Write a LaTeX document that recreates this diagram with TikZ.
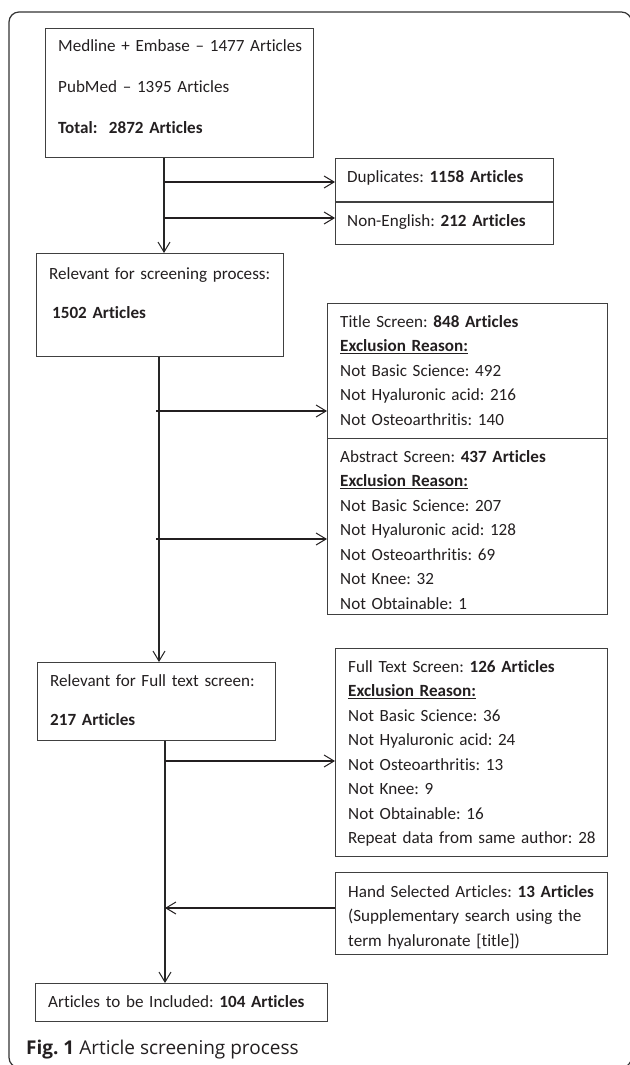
\documentclass[tikz,border=0pt]{standalone}
\usepackage{fontspec}
\setmainfont{Carlito}[Ligatures=NoCommon]
\newfontfamily\capfont{Open Sans}
\usetikzlibrary{arrows.meta}
\definecolor{ink}{HTML}{231F20}
\frenchspacing

\begin{document}
\begin{tikzpicture}[x=1pt,y=-1pt,
  font=\fontsize{17.1}{24.5}\selectfont,text=ink,
  box/.style={draw=black!75,line width=1.3pt,anchor=north west,inner sep=0pt},
  txt/.style={anchor=base west,inner sep=0pt,align=left,text width=265pt},
  arr/.style={-{Straight Barb[length=10pt,width=12pt,line width=1pt]}},
  flow/.style={arr,line width=1.2pt,black!85},
  feed/.style={arr,line width=2.2pt,ink}]
\useasboundingbox (0,0) rectangle (629,1065);
\draw[line width=1.2pt,black!80,rounded corners=10pt] (9,12) rectangle (631.5,1067.5);
% boxes
\node[box,minimum width=268pt,minimum height=129pt] (src) at (45,28) {};
\node[box,minimum width=218pt,minimum height=43pt] (dup) at (335,158) {};
\node[box,minimum width=218pt,minimum height=42pt] (nonen) at (335,202) {};
\node[box,minimum width=247pt,minimum height=103pt] (scr) at (36,253) {};
\node[box,minimum width=280pt,minimum height=135pt] (title) at (327,303) {};
\node[box,minimum width=280pt,minimum height=176pt] (abs) at (327,438) {};
\node[box,minimum width=238pt,minimum height=78pt] (ft) at (37,662) {};
\node[box,minimum width=272pt,minimum height=208pt] (full) at (335,648) {};
\node[box,minimum width=272pt,minimum height=82pt] (hand) at (335,872) {};
\node[box,minimum width=292pt,minimum height=38pt] (fin) at (35,983) {};
% texts
\node[txt] (src-t) at (58,52) {Medline + Embase -- 1477 Articles\\[16.5pt]
  PubMed -- 1395 Articles\\[16.5pt]\textbf{Total:\ \ 2872 Articles}};
\node[txt] (dup-t) at (347,182) {Duplicates: \textbf{1158 Articles}};
\node[txt] (nonen-t) at (347,226) {Non-English: \textbf{212 Articles}};
\node[txt] (scr-t) at (49,279) {Relevant for screening process:\\[14.5pt]
  \hspace*{3pt}\textbf{1502 Articles}};
\node[txt] (title-t) at (340,327) {Title Screen: \textbf{848 Articles}\\
  \underline{\textbf{Exclusion Reason:}}\\Not Basic Science: 492\\
  Not Hyaluronic acid: 216\\Not Osteoarthritis: 140};
\node[txt] (abs-t) at (340,462) {Abstract Screen: \textbf{437 Articles}\\
  \underline{\textbf{Exclusion Reason:}}\\Not Basic Science: 207\\
  Not Hyaluronic acid: 128\\Not Osteoarthritis: 69\\Not Knee: 32\\
  Not Obtainable: 1};
\node[txt] (ft-t) at (50,686) {Relevant for Full text screen:\\[14.5pt]
  \textbf{217 Articles}};
\node[txt] (full-t) at (348,672) {Full Text Screen: \textbf{126 Articles}\\
  \underline{\textbf{Exclusion Reason:}}\\Not Basic Science: 36\\
  Not Hyaluronic acid: 24\\Not Osteoarthritis: 13\\Not Knee: 9\\
  Not Obtainable: 16\\Repeat data from same author: 28};
\node[txt] (hand-t) at (348,897) {Hand Selected Articles: \textbf{13 Articles}\\
  (Supplementary search using the\\term hyaluronate [title])};
\node[txt] (fin-t) at (48,1007) {Articles to be Included: \textbf{104 Articles}};
\node[anchor=base west,inner sep=0pt,font=\capfont\fontsize{19}{24}\selectfont]
  (cap) at (26,1054) {\textbf{Fig. 1} Article screening process};
% connectors
\path (164,182) coordinate (d1) (164,218) coordinate (d2)
  (156,411) coordinate (t1) (156,539) coordinate (t2)
  (165,761) coordinate (f1) (165,908) coordinate (h1);
\draw[flow] (164,0 |- src.south) -- (164,0 |- scr.north);
\draw[flow] (159,0 |- scr.south) -- (159,0 |- ft.north);
\draw[flow] (165,0 |- ft.south) -- (165,0 |- fin.north);
\foreach \p/\b in {d1/dup,d2/nonen,t1/title,t2/abs,f1/full}
  \draw[feed] (\p) -- (\p -| \b.west);
\draw[feed] (h1 -| hand.west) -- (h1);
\end{tikzpicture}
\end{document}
